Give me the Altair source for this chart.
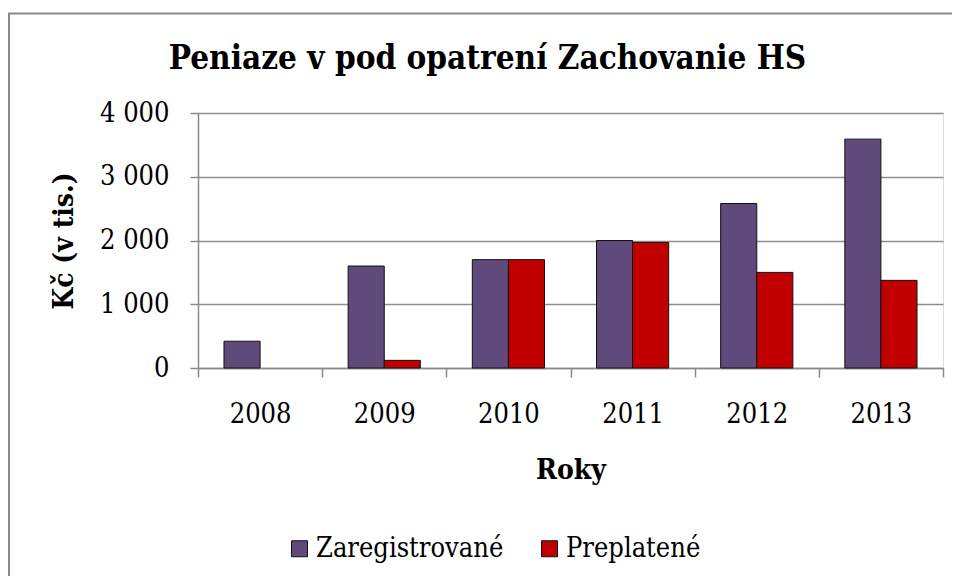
import altair as alt
import pandas as pd

years = ["2008", "2009", "2010", "2011", "2012", "2013"]
series = ["Zaregistrované", "Preplatené"]
registered = [420, 1600, 1700, 2000, 2580, 3590]
paid = [0, 120, 1700, 1970, 1500, 1375]
colors = ["#604A7B", "#C00000"]
y_ticks = [0, 1000, 2000, 3000, 4000]

rows = []
for i, yr in enumerate(years):
    rows.append({"year": yr, "series": series[0], "value": registered[i]})
    rows.append({"year": yr, "series": series[1], "value": paid[i]})
df = pd.DataFrame(rows)

FONT = "DejaVu Serif Condensed, DejaVu Serif"
W, H = 745, 255

frame = alt.Chart(alt.Data(values=[{"a": 1}])).mark_rect(
    fill="transparent", stroke="#8a8a8a", strokeWidth=2
).encode(
    x=alt.value(-189), x2=alt.value(820), y=alt.value(-99.5), y2=alt.value(520)
)

bars = alt.Chart(df).transform_filter("datum.value > 0").mark_bar(
    stroke="#111111", strokeWidth=1
).encode(
    x=alt.X("year:N", sort=years,
            scale=alt.Scale(domain=years, paddingInner=0, paddingOuter=0),
            axis=alt.Axis(title="Roky", labelAngle=0, tickBand="extent",
                          labelFontSize=27, labelFont=FONT, labelColor="black",
                          labelPadding=24, tickSize=9, tickColor="#8a8a8a",
                          domainColor="#8a8a8a", domainWidth=1.5, tickWidth=1.5,
                          titleFont=FONT, titleFontSize=28, titleFontWeight="bold",
                          titleColor="black", titleY=102, titleBaseline="middle",
                          grid=False)),
    xOffset=alt.XOffset("series:N", sort=series,
                        scale=alt.Scale(domain=series, paddingInner=0, paddingOuter=0.72)),
    y=alt.Y("value:Q", scale=alt.Scale(domain=[0, 4000]),
            axis=alt.Axis(title="Kč (v tis.)", values=y_ticks,
                          labelExpr="replace(format(datum.value, ',d'), ',', ' ')",
                          labelFontSize=27, labelFont=FONT, labelColor="black",
                          labelPadding=21, tickSize=8, tickColor="#8a8a8a",
                          tickWidth=1.5, domainColor="#8a8a8a", domainWidth=1.5,
                          gridColor="#8e8e8e", gridWidth=1.5, grid=True,
                          titleFont=FONT, titleFontSize=28, titleFontWeight="bold",
                          titleColor="black", titleX=-134, titleY=127.5,
                          titleAngle=-90, titleAlign="center", titleBaseline="middle")),
    color=alt.Color("series:N", sort=series,
                    scale=alt.Scale(domain=series, range=colors),
                    legend=alt.Legend(title=None, orient="none", direction="horizontal",
                                      legendX=88, legendY=422, labelLimit=400,
                                      labelFont=FONT, labelFontSize=27, labelColor="black",
                                      symbolType="square", symbolSize=256,
                                      symbolStrokeColor="#111111", symbolStrokeWidth=1,
                                      labelOffset=3, columnPadding=32)),
)

chart = alt.layer(frame, bars).properties(
    width=W, height=H,
    title=alt.Title("Peniaze v pod opatrení Zachovanie HS", font=FONT, fontSize=33,
                    fontWeight="bold", color="black", anchor="middle", dx=-83,
                    dy=75, offset=12),
    autosize=alt.AutoSizeParams(type="none"),
    padding={"left": 190, "top": 105, "right": 9, "bottom": 208},
).configure_view(stroke=None).configure(background="white", font=FONT)

chart.save("out.html", embed_options={"renderer": "svg", "actions": False})
